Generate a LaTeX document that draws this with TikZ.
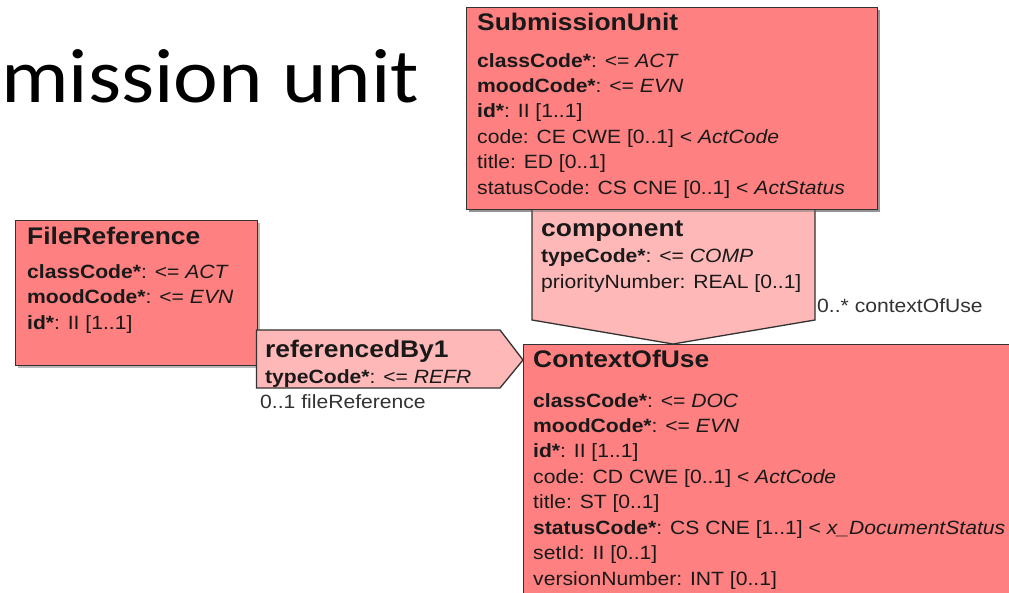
\documentclass[tikz,border=0pt]{standalone}
\usepackage{fontspec}
\usetikzlibrary{calc,shadows}
\newfontfamily\uml[FakeStretch=1.1]{Liberation Sans}
\newfontfamily\slidefont[FakeStretch=1.1]{Carlito}
\definecolor{boxfill}{RGB}{255,128,128}
\definecolor{connfill}{RGB}{255,184,184}
\definecolor{boxline}{RGB}{50,50,50}
\definecolor{txt}{RGB}{25,25,25}
\definecolor{lbl}{RGB}{50,50,50}
\tikzset{
  umlbox/.style={draw=boxline, fill=boxfill, line width=1.4pt, inner sep=0pt, anchor=north west,
    drop shadow={shadow xshift=2pt, shadow yshift=-2pt, opacity=0.45, fill=black!60}},
  conn/.style={draw=boxline, fill=connfill, line width=1.3pt, line join=miter},
  ttl/.style={font=\uml\bfseries\fontsize{24}{28}\selectfont, text=txt, anchor=base west, inner sep=0pt},
  attr/.style={font=\uml\fontsize{19.2}{23}\selectfont, text=txt, anchor=base west, inner sep=0pt},
  lab/.style={font=\uml\fontsize{19.2}{23}\selectfont, text=lbl, anchor=base west, inner sep=0pt},
}
\begin{document}
\begin{tikzpicture}[x=1pt,y=-1pt]
\useasboundingbox (0,0) rectangle (1009,593);
\clip (0,0) rectangle (1009,593);
\fill[white] (0,0) rectangle (1009,593);

% slide title fragment
\node[font=\slidefont\fontsize{77}{82}\selectfont, anchor=base west, inner sep=0pt] (slidetitle) at (1,103) {mission unit};

% boxes
\node[umlbox, minimum width=520pt, minimum height=280pt] (cu) at (523,344) {};
\node[umlbox, minimum width=242pt, minimum height=145pt] (fr) at (15,220) {};

% referencedBy1 connector
\coordinate (rbtip) at ($(cu.north west)+(0,16)$);
\filldraw[conn] ($(fr.north east)+(-2,110)$) -- (500,330) -- (rbtip) -- (500,388) -- ($(fr.north east)+(-2,168)$) -- cycle;

% component connector
\coordinate (comptip) at ($(cu.north west)+(150,0)$);
\node[umlbox, minimum width=411pt, minimum height=202pt, draw=none, fill=none, drop shadow={opacity=0}] (su) at (466,7) {};
\filldraw[conn] ($(su.south west)+(66,-2)$) -- ($(su.south west)+(349,-2)$) -- (815,320) -- (comptip) -- (532,320) -- cycle;

\node[umlbox, minimum width=411pt, minimum height=202pt] (subox) at (466,7) {};

% SubmissionUnit text
\node[ttl] (suT) at (477,31) {SubmissionUnit};
\node[attr] (su1) at (477,68) {\textbf{classCode*}: <= \textit{ACT}};
\node[attr] (su2) at (477,93) {\textbf{moodCode*}: <= \textit{EVN}};
\node[attr] (su3) at (477,118) {\textbf{id*}: II [1..1]};
\node[attr] (su4) at (477,144) {code: CE CWE [0..1] < \textit{ActCode}};
\node[attr] (su5) at (477,169) {title: ED [0..1]};
\node[attr] (su6) at (477,195) {statusCode: CS CNE [0..1] < \textit{ActStatus}};

% FileReference text
\node[ttl] (frT) at (27,245) {FileReference};
\node[attr] (fr1) at (27,279) {\textbf{classCode*}: <= \textit{ACT}};
\node[attr] (fr2) at (27,304) {\textbf{moodCode*}: <= \textit{EVN}};
\node[attr] (fr3) at (27,330) {\textbf{id*}: II [1..1]};

% component text
\node[ttl] (coT) at (541,237) {component};
\node[attr] (co1) at (541,263) {\textbf{typeCode*}: <= \textit{COMP}};
\node[attr] (co2) at (541,289) {priorityNumber: REAL [0..1]};
\node[lab] (coL) at (817,313) {0..* contextOfUse};

% referencedBy1 text
\node[ttl] (rbT) at (265,358) {referencedBy1};
\node[attr] (rb1) at (265,383) {\textbf{typeCode*}: <= \textit{REFR}};
\node[lab] (rbL) at (260,408) {0..1 fileReference};

% ContextOfUse text
\node[ttl] (cuT) at (533,367) {ContextOfUse};
\node[attr] (cu1) at (533,407) {\textbf{classCode*}: <= \textit{DOC}};
\node[attr] (cu2) at (533,432) {\textbf{moodCode*}: <= \textit{EVN}};
\node[attr] (cu3) at (533,457) {\textbf{id*}: II [1..1]};
\node[attr] (cu4) at (533,483) {code: CD CWE [0..1] < \textit{ActCode}};
\node[attr] (cu5) at (533,508) {title: ST [0..1]};
\node[attr] (cu6) at (533,534) {\textbf{statusCode*}: CS CNE [1..1] < \textit{x\_DocumentStatus}};
\node[attr] (cu7) at (533,559) {setId: II [0..1]};
\node[attr] (cu8) at (533,585) {versionNumber: INT [0..1]};
\end{tikzpicture}
\end{document}
